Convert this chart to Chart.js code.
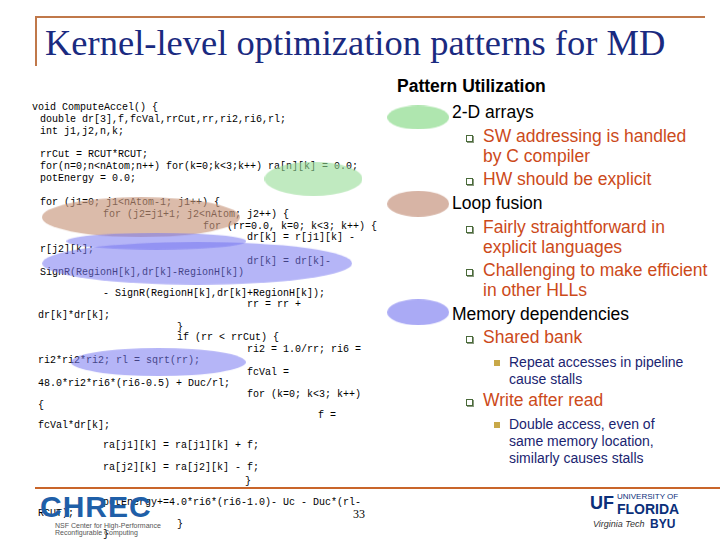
<!DOCTYPE html>
<html><head><meta charset="utf-8">
<script src="https://cdn.jsdelivr.net/npm/chart.js@4/dist/chart.umd.min.js"></script>
<style>
body{margin:0;width:720px;height:540px;position:relative;overflow:hidden;background:#fff;font-family:"Liberation Sans",Arial,sans-serif}
.t{position:absolute;white-space:pre;line-height:1}
.c{font-family:"Liberation Mono",monospace;font-size:10px;color:#000}
.r{font-size:17.5px;color:#000}
.o{font-size:17.5px;color:#cc4a1a}
.s{font-size:14px;color:#1a2470}
.q{position:absolute;width:5px;height:5px;border:1px solid #4a6a3a;background:#fff;box-shadow:1px 1px 0 #8a9a80}
.sq{position:absolute;width:6px;height:6px;background:#c8a848}
#cv{position:absolute;left:0;top:0;pointer-events:none}
</style></head><body>
<div style="position:absolute;left:35px;top:16px;width:670px;height:2px;background:#c0784a"></div>
<div style="position:absolute;left:35px;top:16px;width:2px;height:50px;background:#c0784a"></div>
<div class="t" style="left:45px;top:25px;font-family:'Liberation Serif',serif;font-size:36.5px;color:#1a2a80">Kernel-level optimization patterns for MD</div>
<div style="position:absolute;left:35px;top:487px;width:685px;height:2px;background:#c9652a"></div>
<div id="code"></div>
<div id="right"></div>
<div class="t" style="left:40px;top:492px;font-size:30px;font-weight:bold;color:#1f5fa8;letter-spacing:1px">CHREC</div>
<div class="t" style="left:55px;top:522px;font-size:7px;color:#555">NSF Center for High-Performance<br>Reconfigurable Computing</div>
<div class="t" style="left:353px;top:508px;font-size:12px;font-family:'Liberation Serif',serif">33</div>
<div class="t" style="left:590px;top:494px;font-size:18px;font-weight:bold;color:#0b2f7a">UF</div>
<div class="t" style="left:617px;top:493px;font-size:8px;color:#0b2f7a">UNIVERSITY OF</div>
<div class="t" style="left:617px;top:502px;font-size:14px;font-weight:bold;color:#0b2f7a">FLORIDA</div>
<div class="t" style="left:650px;top:518px;font-size:12px;font-weight:bold;color:#0b2f7a">BYU</div>
<div class="t" style="left:593px;top:520px;font-size:9px;font-style:italic;color:#333">Virginia Tech</div>
<canvas id="cv" width="720" height="540"></canvas>
<script>
const codeLines=[
[110,32,"void ComputeAccel() {"],[122,40,"double dr[3],f,fcVal,rrCut,rr,ri2,ri6,rl;"],[134,40,"int j1,j2,n,k;"],
[157,40,"rrCut = RCUT*RCUT;"],[169,40,"for(n=0;n<nAtom;n++) for(k=0;k<3;k++) ra[n][k] = 0.0;"],[181,40,"potEnergy = 0.0;"],
[205,40,"for (j1=0; j1<nAtom-1; j1++) {"],[217,103,"for (j2=j1+1; j2<nAtom; j2++) {"],[229,203,"for (rr=0.0, k=0; k<3; k++) {"],
[240,247,"dr[k] = r[j1][k] -"],[252,40,"r[j2][k];"],[264,247,"dr[k] = dr[k]-"],[275,40,"SignR(RegionH[k],dr[k]-RegionH[k])"],
[296,103,"- SignR(RegionH[k],dr[k]+RegionH[k]);"],[307,247,"rr = rr +"],[318,38,"dr[k]*dr[k];"],[330,177,"}"],
[340,177,"if (rr < rrCut) {"],[352,247,"ri2 = 1.0/rr; ri6 ="],[363,38,"ri2*ri2*ri2; rl = sqrt(rr);"],[375,247,"fcVal ="],
[386,38,"48.0*ri2*ri6*(ri6-0.5) + Duc/rl;"],[397,247,"for (k=0; k<3; k++)"],[408,38,"{"],[418,318,"f ="],[428,38,"fcVal*dr[k];"],
[448,103,"ra[j1][k] = ra[j1][k] + f;"],[470,103,"ra[j2][k] = ra[j2][k] - f;"],[484,245,"}"],
[505,103,"potEnergy+=4.0*ri6*(ri6-1.0)- Uc - Duc*(rl-"],[516,38,"RCUT);"],[527,177,"}"],[537,103,"}"]];
const rightLines=[
[88,397,"Pattern Utilization","r b",""],[114,452,"2-D arrays","r",""],[138,483,"SW addressing is handled","o","q"],[158,483,"by C compiler","o",""],
[181,483,"HW should be explicit","o","q"],[205,452,"Loop fusion","r",""],[229,483,"Fairly straightforward in","o","q"],[249,483,"explicit languages","o",""],
[272,483,"Challenging to make efficient","o","q"],[292,483,"in other HLLs","o",""],[316,452,"Memory dependencies","r",""],[339,483,"Shared bank","o","q"],
[363,509,"Repeat accesses in pipeline","s","sq"],[380,509,"cause stalls","s",""],[402,483,"Write after read","o","q"],
[425,509,"Double access, even of","s","sq"],[442,509,"same memory location,","s",""],[459,509,"similarly causes stalls","s",""]];
let h="";for(const [y,x,s] of codeLines){h+=`<div class="t c" style="left:${x}px;top:${y-7}px">${s.replace(/</g,'&lt;')}</div>`}
document.getElementById('code').innerHTML=h;
h="";for(const [y,x,s,c,b] of rightLines){const fs=c=="s"?14:17.5;const st=c=="r b"?"font-weight:bold;":"";
h+=`<div class="t ${c}" style="${st}left:${x}px;top:${y-fs*0.55}px">${s}</div>`;
if(b=="q")h+=`<div class="q" style="left:466px;top:${y-3}px"></div>`;if(b=="sq")h+=`<div class="sq" style="left:494px;top:${y-3}px"></div>`}
document.getElementById('right').innerHTML=h;

const ellipseX=[312,420,134,420,150,192,152,420];
const ellipseY=[175,111,215,201,240,263,366,314];
const ellipseW=[98,62,198,62,180,310,175,62];
const ellipseH=[34,24,40,26,17,43,28,26];
const ellipseColor=["rgba(150,220,150,0.6)","rgba(175,230,175,1)","rgba(200,150,125,0.65)","rgba(215,180,165,1)","rgba(120,120,240,0.55)","rgba(120,120,240,0.55)","rgba(120,120,240,0.55)","rgba(170,170,245,1)"];
const styles=ellipseX.map((_,i)=>{const c=document.createElement('canvas');c.width=ellipseW[i];c.height=ellipseH[i];const g=c.getContext('2d');g.fillStyle=ellipseColor[i];g.beginPath();g.ellipse(ellipseW[i]/2,ellipseH[i]/2,ellipseW[i]/2,ellipseH[i]/2,0,0,Math.PI*2);g.fill();return c;});
new Chart(document.getElementById('cv'),{type:'scatter',
data:{datasets:[{data:ellipseX.map((x,i)=>({x,y:ellipseY[i]})),pointStyle:styles,radius:10}]},
options:{responsive:false,animation:false,layout:{padding:0},plugins:{legend:{display:false},tooltip:{enabled:false}},
scales:{x:{type:'linear',min:0,max:720,display:false},y:{type:'linear',min:0,max:540,reverse:true,display:false}}}});
</script></body></html>
